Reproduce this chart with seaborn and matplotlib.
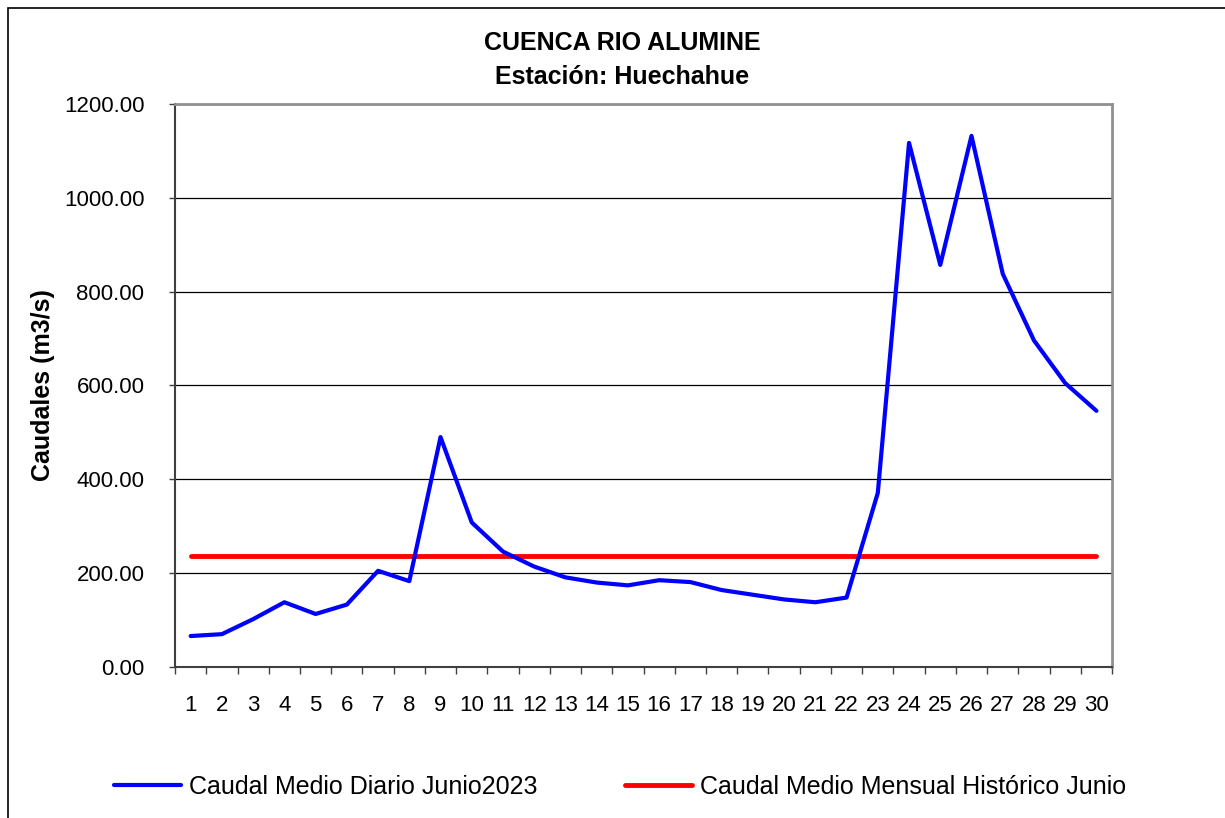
import matplotlib
matplotlib.use("Agg")
import matplotlib.pyplot as plt
import seaborn as sns
from matplotlib.patches import Rectangle
from matplotlib.ticker import FixedLocator, FormatStrFormatter

# data
dias = list(range(1, 31))
caudal_diario = [66, 70, 102, 138, 113, 133, 205, 183, 490, 308,
                 246, 214, 191, 180, 174, 185, 181, 164, 154, 144,
                 138, 148, 371, 1117, 857, 1132, 838, 696, 605, 546]
caudal_historico = 237
historico = [caudal_historico] * len(dias)

sns.set_style("white")
plt.rcParams['font.family'] = ['Liberation Sans', 'DejaVu Sans']
plt.rcParams['text.color'] = 'black'
plt.rcParams['xtick.color'] = 'black'
plt.rcParams['ytick.color'] = 'black'
plt.rcParams['xtick.labelcolor'] = 'black'
plt.rcParams['ytick.labelcolor'] = 'black'

fig = plt.figure(figsize=(12.25, 8.18), dpi=100)
ax = fig.add_axes([0.1429, 0.1846, 0.7649, 0.6883])

sns.lineplot(x=dias, y=caudal_diario, ax=ax, color='#0000ff', linewidth=3,
             label='Caudal Medio Diario Junio2023', zorder=3)
sns.lineplot(x=dias, y=historico, ax=ax, color='#ff0000', linewidth=3.5,
             label='Caudal Medio Mensual Histórico Junio', zorder=2)

ax.set_xlim(0.5, 30.5)
ax.set_ylim(0, 1200)
ax.set_yticks(range(0, 1201, 200))
ax.yaxis.set_major_formatter(FormatStrFormatter('%.2f'))
ax.yaxis.grid(True, color='black', linewidth=0.9)
ax.xaxis.grid(False)

ax.set_xticks(dias)
ax.set_xticklabels([str(d) for d in dias])
ax.xaxis.set_minor_locator(FixedLocator([d + 0.5 for d in range(0, 31)]))
ax.tick_params(axis='x', which='major', length=0, pad=20, labelsize=16)
ax.tick_params(axis='x', which='minor', length=5, width=1, color='#404040', direction='out', bottom=True)
ax.tick_params(axis='y', which='major', length=4, width=1, color='#404040', direction='out', left=True, pad=18, labelsize=16)

for s in ['left', 'bottom']:
    ax.spines[s].set_color('#404040')
    ax.spines[s].set_linewidth(1.5)
for s in ['top', 'right']:
    ax.spines[s].set_color('#909090')
    ax.spines[s].set_linewidth(2)

ax.set_xlabel('')
ax.set_ylabel('')

ax.get_legend().remove()
handles, labels = ax.get_legend_handles_labels()
fig.legend(handles, labels, loc='center', bbox_to_anchor=(0.506, 0.038), ncol=2,
           frameon=False, fontsize=18, handlelength=2.7, handletextpad=0.3,
           columnspacing=3.5)

fig.text(0.508, 0.947, 'CUENCA RIO ALUMINE', ha='center', va='center', fontsize=18, fontweight='bold')
fig.text(0.508, 0.906, 'Estación: Huechahue', ha='center', va='center', fontsize=18, fontweight='bold')
fig.text(0.035, 0.529, 'Caudales (m3/s)', ha='center', va='center', rotation=90, fontsize=18, fontweight='bold')

fig.patches.append(Rectangle((8 / 1225, -0.01), 1.0, 1 - 8 / 818 + 0.01, transform=fig.transFigure,
                             fill=False, edgecolor='black', linewidth=1.2))

fig.savefig('out.png', dpi=100)
